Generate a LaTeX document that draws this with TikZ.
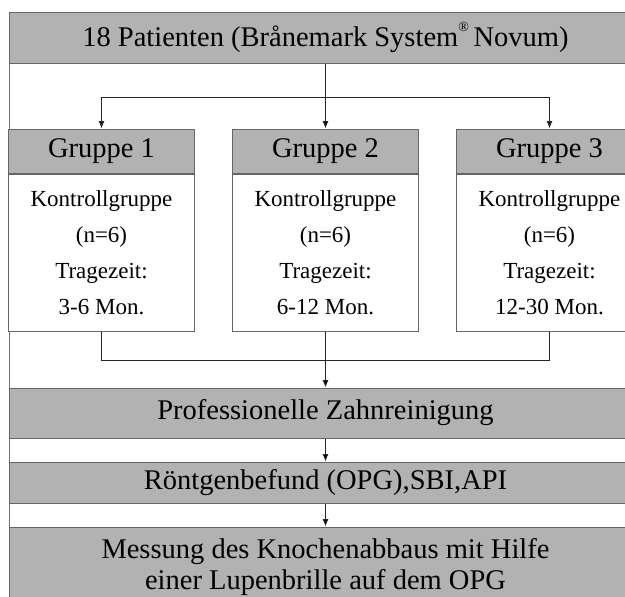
\documentclass[tikz,border=0pt]{standalone}
\usepackage{fontspec}
\setmainfont{Liberation Serif}
\usepackage{tikz}
\usetikzlibrary{arrows, arrows.meta, positioning}

\begin{document}
\begin{tikzpicture}[x=1pt, y=-1pt]
            \tikzset{
                wide_box/.style={draw=black!60, fill=black!30, line width=1pt, minimum width=633pt, inner sep=0pt, align=center, font=\fontsize{28.5}{31}\selectfont},
                head_box/.style={draw=black!60, fill=black!30, line width=1pt, minimum width=186pt, minimum height=44pt, inner sep=0pt, font=\fontsize{28.5}{34}\selectfont},
                body_box/.style={draw=black!60, fill=white, line width=1pt, minimum width=186pt, minimum height=157pt, inner sep=0pt, align=center, font=\fontsize{23}{36}\selectfont},
                flow/.style={draw=black!85, line width=0.8pt},
                tip/.style={-{Latex[length=7.5pt,width=6pt]}}
            }
            \useasboundingbox (0,0) rectangle (625,597);
            \clip (0,0) rectangle (625,597);
            \draw[black!55, line width=1pt] (9,12) rectangle (642,640);
            \node[wide_box, minimum height=51pt] (patients) at (325.5,37.5) {18 Patienten (Brånemark System\raisebox{0.55em}{\fontsize{14}{14}\selectfont ®}\,Novum)};
            \node[head_box] (g1head) at (101.5,151) {Gruppe 1};
            \node[head_box] (g2head) at (325.5,151) {Gruppe 2};
            \node[head_box] (g3head) at (549.5,151) {Gruppe 3};
            \node[body_box] (g1body) [below=0pt of g1head] {Kontrollgruppe\\(n=6)\\Tragezeit:\\3-6 Mon.};
            \node[body_box] (g2body) [below=0pt of g2head] {Kontrollgruppe\\(n=6)\\Tragezeit:\\6-12 Mon.};
            \node[body_box] (g3body) [below=0pt of g3head] {Kontrollgruppe\\(n=6)\\Tragezeit:\\12-30 Mon.};
            \node[wide_box, minimum height=50pt] (cleaning) at (325.5,413) {Professionelle Zahnreinigung};
            \node[wide_box, minimum height=41pt] (xray) at (325.5,482.5) {Röntgenbefund (OPG),SBI,API};
            \node[wide_box, minimum height=80pt] (measure) at (325.5,567) {Messung des Knochenabbaus mit Hilfe\\einer Lupenbrille auf dem OPG};
            \coordinate (split) at (325.5,97);
            \coordinate (join) at (325.5,360);
            \path[flow, tip] (patients) edge (g2head);
            \draw[flow, tip] (split) -| (g1head);
            \draw[flow, tip] (split) -| (g3head);
            \draw[flow] (g1body) |- (join);
            \draw[flow] (g3body) |- (join);
            \path[flow, tip] (g2body) edge (cleaning);
            \path[flow, tip] (cleaning) edge (xray);
            \path[flow, tip] (xray) edge (measure);
        \end{tikzpicture}
\end{document}
